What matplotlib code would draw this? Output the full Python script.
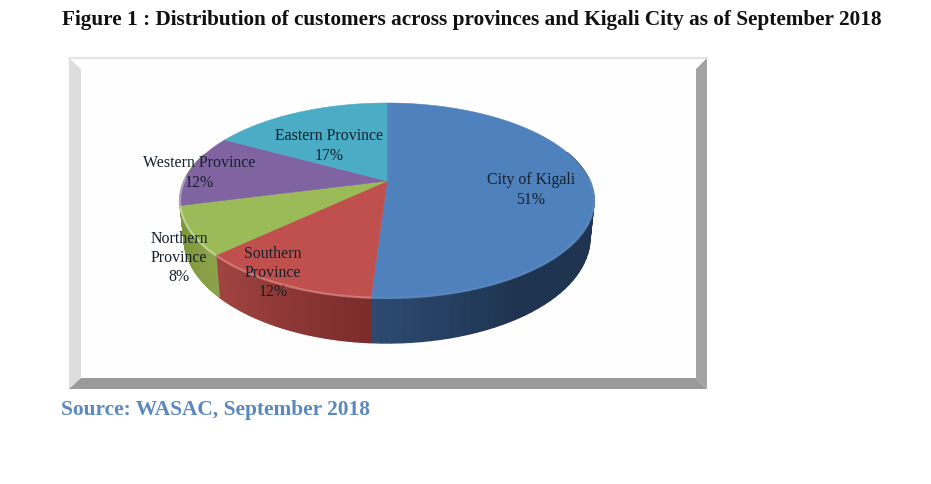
import numpy as np
import matplotlib
matplotlib.use("Agg")
import matplotlib.pyplot as plt
from matplotlib.patches import Polygon, Rectangle
from matplotlib.colors import to_rgb

title = "Figure 1 : Distribution of customers across provinces and Kigali City as of September 2018"
source = "Source: WASAC, September 2018"
labels = ["City of Kigali\n51%", "Southern\nProvince\n12%", "Northern\nProvince\n8%",
          "Western Province\n12%", "Eastern Province\n17%"]
values = [51, 12, 8, 12, 17]

top_colors = ["#4f81bd", "#c0504d", "#9bbb59", "#8064a2", "#4bacc6"]
side_dark = ["#1e3450", "#7a2c2b", "#8ca24c", "#7b9638", "#7b9638"]
side_light = ["#2d4b72", "#a34542", "#7b9638", "#7b9638", "#7b9638"]
rim_mix = [0.08, 0.3, 0.45, 0.45, 0.0]
label_xy = [(531, 190), (273, 273), (179, 258), (199, 173), (329, 146)]

# perspective disc
cx, cy = 387, 181
ax_x, ax_y, persp = 202.8, 93.6, 0.2
depth = 36


def project(theta, drop=0.0, shrink=1.0):
  x = np.sin(theta)
  y = np.cos(theta)
  d = 1 + persp * y
  return cx + shrink * ax_x * x / d, cy - ax_y * y / d + drop / d


def mix(a, b, t):
  a = np.array(to_rgb(a))
  b = np.array(to_rgb(b))
  return tuple(a + (b - a) * t)


fig = plt.figure(figsize=(9.31, 4.84), dpi=100)
ax = fig.add_axes([0, 0, 1, 1])
ax.set_xlim(0, 931)
ax.set_ylim(484, 0)
ax.axis("off")

# bevelled frame
ax.plot([69, 707], [58, 58], color="#e4e4e4", lw=1.5)
ax.add_patch(Polygon([(69, 58), (81, 69), (81, 378), (69, 389)], fc="#dddddd", ec="none"))
ax.add_patch(Polygon([(707, 58), (696, 69), (696, 378), (707, 389)], fc="#a2a2a2", ec="none"))
ax.add_patch(Polygon([(69, 389), (81, 378), (696, 378), (707, 389)], fc="#9a9a9a", ec="none"))
ax.add_patch(Rectangle((81, 69), 615, 309, fc="#fefefe", ec="none"))

edges = np.cumsum([0] + values) / sum(values) * 2 * np.pi

# side wall, one thin strip at a time so the shade can run along the rim
for i in range(len(values)):
  n = 80
  ts = np.linspace(edges[i], edges[i + 1], n + 1)
  for j in range(n):
    t0, t1 = ts[j], ts[j + 1]
    if np.cos(t0) > 0.3 and np.cos(t1) > 0.3:
      continue
    a0 = project(t0)
    a1 = project(t1)
    b1 = project(t1, depth, 0.98)
    b0 = project(t0, depth, 0.98)
    f = j / n
    if i == 0:
      f = min(1, max(0, (f - 0.8) / 0.2))
    col = mix(side_dark[i], side_light[i], f)
    ax.add_patch(Polygon([a0, a1, b1, b0], fc=col, ec=col, lw=1.0))

# top face
for i in range(len(values)):
  ts = np.linspace(edges[i], edges[i + 1], 120)
  xs, ys = project(ts)
  pts = [(cx, cy)] + list(zip(xs, ys))
  ax.add_patch(Polygon(pts, fc=top_colors[i], ec=top_colors[i], lw=0.4))
  # soft highlight along the front rim
  front = ts[np.cos(ts) < 0.05]
  if len(front) > 1 and rim_mix[i] > 0:
    xf, yf = project(front)
    ax.plot(xf, yf, color=mix(top_colors[i], "#ffffff", rim_mix[i]), lw=1.6, alpha=0.8, solid_capstyle="butt")

for lab, (x, y) in zip(labels, label_xy):
  ax.text(x, y, lab, ha="center", va="center", fontsize=11.4, family="Liberation Serif",
          color="#15202b", linespacing=1.28)

ax.text(62, 20, title, ha="left", va="center", fontsize=15.33, family="Liberation Serif",
        fontweight="bold", color="#111111")
ax.text(61, 410, source, ha="left", va="center", fontsize=15.4, family="Liberation Serif",
        fontweight="bold", color="#5b88bf")

fig.savefig("out.png", dpi=100)
